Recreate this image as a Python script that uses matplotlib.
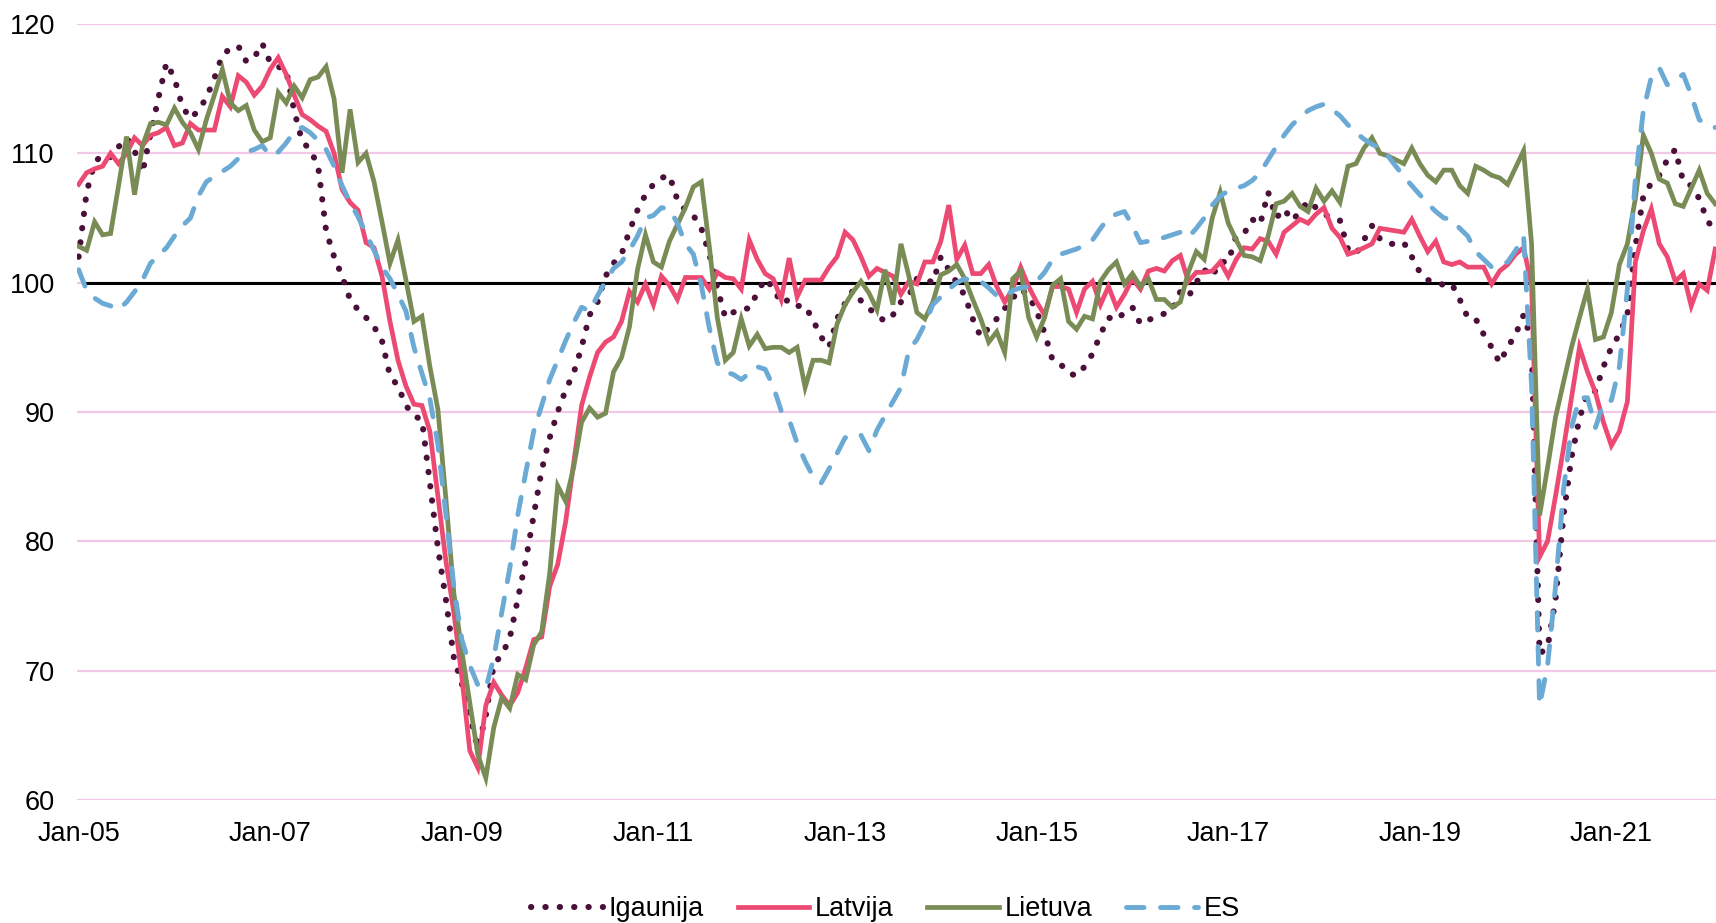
import numpy as np
import matplotlib
matplotlib.use("Agg")
import matplotlib.pyplot as plt

plt.rcParams['font.family'] = ['Liberation Sans', 'DejaVu Sans']

# Monthly data Jan-2005 .. Feb-2022
igaunija = [
    102.0, 107.0, 109.3, 109.9, 109.7, 110.5, 111.2, 110.2, 108.5, 111.5, 114.3, 117.0,
    115.8, 113.6, 112.7, 113.3, 114.3, 115.8, 117.6, 118.1, 118.3, 117.1, 117.4, 118.5,
    117.0, 116.7, 116.4, 113.3, 110.9, 110.3, 109.0, 104.0, 102.0, 100.5, 98.7, 97.9,
    97.3, 96.6, 95.5, 92.8, 92.0, 90.5, 89.7, 89.4, 84.5, 79.5, 75.5, 71.0,
    69.0, 66.5, 64.0, 66.5, 70.5, 71.2, 72.5, 75.5, 78.5, 82.0, 85.5, 88.0,
    90.0, 91.7, 93.0, 95.0, 97.5, 98.5, 100.5, 101.5, 102.2, 104.0, 105.6, 106.8,
    107.6, 108.1, 108.3, 106.4, 105.6, 105.2, 104.2, 102.2, 99.6, 97.3, 97.7, 98.0,
    98.0, 99.2, 100.3, 99.6, 98.4, 98.7, 98.2, 98.2, 97.1, 95.8, 95.0, 97.2,
    98.4, 99.4, 98.6, 98.0, 97.5, 97.0, 97.5, 98.5, 99.0, 100.3, 100.3, 100.0,
    102.0, 101.0, 100.0, 99.0, 97.2, 95.8, 96.5, 97.2, 98.0, 98.8, 99.5, 99.0,
    97.8, 96.1, 94.0, 93.7, 93.0, 92.8, 93.5, 94.5, 96.0, 97.3, 97.1, 97.7,
    98.1, 96.8, 97.1, 97.4, 97.6, 97.9, 99.3, 98.9, 100.0, 101.0, 100.5, 101.6,
    101.6, 103.6, 103.8, 104.9, 104.5, 107.0, 105.0, 105.7, 104.8, 105.5, 106.3, 105.8,
    105.3, 105.0, 104.8, 102.6, 102.2, 103.3, 104.4, 103.4, 103.0, 103.0, 103.1, 102.0,
    100.8, 100.2, 100.1, 99.8, 99.9, 98.7, 97.3, 97.2, 96.0, 95.0, 93.8, 95.0,
    96.0, 97.5, 95.5, 71.3, 71.8, 75.5, 82.0, 86.5, 89.5, 91.5, 91.6, 93.5,
    95.0, 96.0, 97.5, 102.8, 106.7, 107.7, 108.3, 109.5, 110.3, 107.8, 107.5, 106.5,
    104.8, 104.0,
]

latvija = [
    107.6, 108.5, 108.8, 109.0, 110.0, 109.2, 110.0, 111.2, 110.6, 111.4, 111.6, 112.0,
    110.6, 110.8, 112.3, 111.8, 111.8, 111.8, 114.4, 113.6, 116.0, 115.5, 114.5, 115.2,
    116.5, 117.4, 116.1, 114.5, 113.0, 112.6, 112.1, 111.7, 110.0, 107.2, 106.2, 105.6,
    103.1, 102.7, 100.5, 97.0, 94.0, 92.0, 90.6, 90.5, 88.5, 83.5, 78.5, 74.5,
    69.5, 63.8, 62.5, 67.3, 69.1, 68.1, 67.3, 68.3, 70.2, 72.4, 72.6, 76.5,
    78.2, 81.5, 86.0, 90.5, 92.7, 94.6, 95.4, 95.8, 97.0, 99.3, 98.5, 99.9,
    98.3, 100.5, 99.8, 98.7, 100.4, 100.4, 100.4, 99.5, 100.8, 100.4, 100.3, 99.5,
    103.3, 101.8, 100.7, 100.3, 98.7, 101.9, 98.9, 100.2, 100.2, 100.2, 101.2, 102.0,
    103.9, 103.3, 102.0, 100.5, 101.1, 100.8, 100.5, 99.1, 100.1, 99.9, 101.6, 101.6,
    103.2, 106.0, 101.8, 102.9, 100.7, 100.7, 101.4, 99.7, 98.5, 99.5, 101.2, 99.7,
    98.5, 97.5, 99.7, 99.7, 99.5, 97.7, 99.5, 100.1, 98.3, 99.7, 98.1, 99.1,
    100.3, 99.5, 100.9, 101.1, 100.9, 101.7, 102.1, 100.1, 100.8, 100.8, 100.9, 101.6,
    100.5, 101.8, 102.7, 102.6, 103.4, 103.2, 102.2, 103.9, 104.4, 104.9, 104.6, 105.3,
    105.8, 104.2, 103.5, 102.2, 102.4, 102.7, 103.0, 104.2, 104.1, 104.0, 103.9, 104.9,
    103.6, 102.4, 103.2, 101.6, 101.4, 101.6, 101.2, 101.2, 101.2, 99.9, 100.9, 101.4,
    102.2, 102.7, 99.8, 78.8, 80.0, 83.5, 87.2, 91.1, 95.0, 93.1, 91.5, 89.2,
    87.4, 88.5, 90.8, 101.6, 104.0, 105.7, 103.0, 102.0, 100.1, 100.7, 98.2, 99.9,
    99.4, 102.6,
]

lietuva = [
    102.8, 102.5, 104.7, 103.7, 103.8, 107.5, 111.3, 106.8, 110.6, 112.3, 112.4, 112.2,
    113.5, 112.4, 111.6, 110.3, 112.6, 114.5, 116.5, 113.9, 113.3, 113.7, 111.8, 110.9,
    111.2, 114.7, 113.9, 115.2, 114.3, 115.7, 115.9, 116.7, 114.2, 108.5, 113.4, 109.3,
    110.0, 107.8, 104.7, 101.5, 103.3, 100.2, 97.0, 97.4, 93.5, 90.2, 83.3, 76.0,
    71.5, 67.5, 63.5, 61.7, 65.6, 67.9, 67.1, 69.7, 69.3, 72.0, 73.0, 77.5,
    84.3, 83.1, 85.7, 89.2, 90.3, 89.6, 89.9, 93.1, 94.2, 96.6, 101.0, 103.7,
    101.6, 101.2, 103.2, 104.5, 105.8, 107.4, 107.8, 102.8, 97.3, 94.0, 94.6, 97.2,
    95.1, 96.0, 94.9, 95.0, 95.0, 94.6, 95.0, 91.9, 94.0, 94.0, 93.8, 96.8,
    98.3, 99.3, 100.1, 99.2, 97.9, 101.0, 98.3, 103.0, 100.5, 97.7, 97.2, 98.5,
    100.6, 100.9, 101.4, 100.3, 98.7, 97.2, 95.4, 96.2, 94.6, 100.3, 100.9, 97.3,
    95.8, 97.3, 99.8, 100.3, 97.0, 96.4, 97.4, 97.2, 100.1, 101.0, 101.6, 99.9,
    100.7, 99.7, 100.3, 98.7, 98.7, 98.1, 98.5, 100.8, 102.4, 101.8, 105.0, 107.0,
    104.6, 103.3, 102.1, 102.0, 101.7, 103.6, 106.1, 106.3, 106.9, 105.9, 105.5, 107.3,
    106.3, 107.1, 106.2, 109.0, 109.2, 110.4, 111.2, 110.0, 109.8, 109.5, 109.2, 110.4,
    109.2, 108.3, 107.8, 108.7, 108.7, 107.5, 106.9, 109.0, 108.7, 108.3, 108.1, 107.6,
    108.9, 110.2, 103.0, 82.0, 85.7, 89.6, 92.3, 95.0, 97.3, 99.5, 95.6, 95.8,
    97.7, 101.4, 103.0, 106.5, 111.4, 110.0, 108.0, 107.7, 106.1, 105.9, 107.3, 108.7,
    106.9, 106.1,
]

es = [
    101.0, 99.4, 98.8, 98.4, 98.2, 97.9, 98.5, 99.3, 100.2, 101.5, 102.1, 102.7,
    103.6, 104.4, 105.0, 106.7, 107.8, 108.2, 108.6, 109.0, 109.6, 110.1, 110.3, 110.6,
    109.8, 110.1, 110.8, 111.7, 112.0, 111.6, 111.0, 110.3, 109.0, 107.5, 106.2, 105.1,
    103.8, 102.5, 101.2, 100.3, 99.1, 97.8, 95.0, 93.0, 91.0, 87.5, 82.1, 76.5,
    72.4, 70.4, 68.9, 68.6, 71.0, 74.5, 77.9, 82.0, 85.3, 88.5, 90.5, 92.5,
    94.0, 95.5, 96.9, 98.1, 97.8, 99.0, 100.1, 101.1, 101.6, 102.5, 103.6, 105.0,
    105.2, 105.8, 105.7, 104.6, 103.0, 102.2, 99.8, 96.5, 93.8, 93.1, 92.9, 92.5,
    93.0, 93.5, 93.3, 92.0, 90.1, 89.4, 87.6, 86.2, 85.0, 84.5, 85.6, 86.8,
    88.0, 88.3, 88.2, 87.0, 88.6, 89.7, 90.8, 91.9, 94.8, 95.6, 96.8, 98.3,
    98.9, 99.5, 100.0, 100.3, 100.2, 100.1, 99.6, 99.0, 98.9, 99.4, 99.6, 99.7,
    100.1, 100.8, 101.8, 102.2, 102.4, 102.6, 102.9, 103.3, 104.2, 105.0, 105.3, 105.5,
    104.4, 103.1, 103.2, 103.3, 103.5, 103.7, 103.9, 103.5, 104.2, 105.0, 106.0, 106.7,
    107.1, 107.3, 107.5, 107.9, 108.5, 109.5, 110.5, 111.4, 112.2, 112.8, 113.3, 113.6,
    113.8, 113.4, 112.9, 112.2, 111.6, 111.1, 110.7, 110.4, 109.8, 109.0, 108.2, 107.5,
    106.8, 106.1, 105.5, 105.0, 104.9, 104.2, 103.6, 102.4, 101.8, 101.2, 101.3, 101.6,
    102.5, 103.6, 92.0, 67.3, 70.4, 76.5, 84.0, 88.8, 91.1, 91.1, 88.8, 90.7,
    90.9, 93.5, 99.5, 108.0, 113.3, 115.9, 116.6, 115.3, 115.7, 116.1, 114.5, 112.6,
    112.2, 112.0,
]

tick_labels = ["Jan-05", "Jan-07", "Jan-09", "Jan-11", "Jan-13",
               "Jan-15", "Jan-17", "Jan-19", "Jan-21"]
y_ticks = [60, 70, 80, 90, 100, 110, 120]
series_names = ["Igaunija", "Latvija", "Lietuva", "ES"]

n = len(es)
x = np.arange(n)

fig = plt.figure(figsize=(17.16, 9.23), dpi=100)
ax = fig.add_axes([0.0449, 0.1333, 0.9551, 0.8407])

for yv in y_ticks:
    ax.axhline(yv, color="#F2C8E6", lw=1.6, zorder=0)
ax.axhline(100, color="black", lw=2.2, zorder=1, xmin=0.004)

ax.plot(x, igaunija, color="#4A1039", lw=4.4, linestyle=(0, (0.05, 2.3)),
        dash_capstyle="round", label=series_names[0], zorder=3)
ax.plot(x, latvija, color="#EC4A73", lw=3.4, solid_joinstyle="miter",
        label=series_names[1], zorder=3)
ax.plot(x, lietuva, color="#7A8C56", lw=3.4, solid_joinstyle="miter",
        label=series_names[2], zorder=3)
ax.plot(x, es, color="#6BAAD5", lw=3.5, linestyle=(0, (3.6, 3.4)),
        dash_capstyle="round", label=series_names[3], zorder=3)

ax.set_ylim(60, 120)
ax.set_xlim(-0.2, n - 0.9)
ax.set_yticks(y_ticks)
ax.set_xticks(np.arange(0, n, 24)[:len(tick_labels)])
ax.set_xticklabels(tick_labels)
ax.tick_params(axis="both", length=0, labelsize=19.5, colors="black")
ax.tick_params(axis="x", pad=15)
ax.tick_params(axis="y", pad=16)
for s in ax.spines.values():
    s.set_visible(False)
ax.grid(False)

leg = fig.legend(loc="center", bbox_to_anchor=(0.516, 0.015), ncol=4,
                 frameon=False, fontsize=19.5, handlelength=2.65,
                 handletextpad=0.2, columnspacing=1.25)

fig.savefig("out.png", dpi=100)
